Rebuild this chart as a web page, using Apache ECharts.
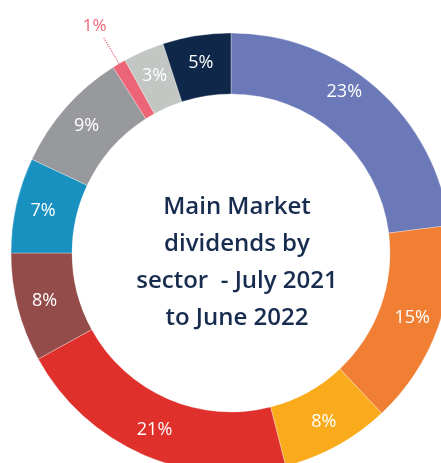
<!DOCTYPE html>
<html><head><meta charset="utf-8">
<script src="https://cdn.jsdelivr.net/npm/echarts@6/dist/echarts.min.js"></script>
<style>html,body{margin:0;padding:0;background:#fff}#c{width:441px;height:463px}</style>
</head><body><div id="c"></div>
<script>
const sectors = ['S1','S2','S3','S4','S5','S6','S7','S8','S9','S10'];
const shares = [23, 15, 8, 21, 8, 7, 9, 1, 3, 5];
const colors = ['#6c79b8','#f07f33','#f9ab1c','#df302b','#944c4a','#1891c1','#98999c','#ec6576','#c3c7c4','#0f284a'];
const titleLines = ['Main Market','dividends by','sector  - July 2021','to June 2022'];

const chart = echarts.init(document.getElementById('c'), null, {renderer:'canvas'});
const data = sectors.map((n,i)=>{
  const item = {name:n, value:shares[i], itemStyle:{color:colors[i]}};
  if (shares[i] < 2) {
    item.label = {position:'outside', color:'#ec6576', fontSize:17};
    item.labelLine = {show:true, length:30, length2:0, lineStyle:{type:'dotted', color:'#ec6576', width:1.2}};
  }
  if (i === 0) item.label = {offset:[-14,-17]};
  return item;
});
chart.setOption({
  animation:false,
  title:{
    text: titleLines.join('\n'),
    left: 232, top: 258, textAlign:'center', textVerticalAlign:'middle',
    textStyle:{fontFamily:'Open Sans', fontSize:24, fontWeight:600, color:'#172c4f', lineHeight:37}
  },
  series:[{
    type:'pie', center:[231,253], radius:[159,220], startAngle:90, clockwise:true,
    avoidLabelOverlap:false,
    itemStyle:{borderColor:'rgba(255,255,255,0.6)', borderWidth:0.5},
    label:{show:true, position:'inside', formatter:'{c}%', color:'#fff', fontFamily:'Open Sans', fontSize:18, fontWeight:'normal'},
    labelLine:{show:false},
    labelLayout: function(p){ if (p.dataIndex===7) return {dx:-4, dy:-12, align:'center'}; return {}; },
    data:data
  }]
});
</script></body></html>
